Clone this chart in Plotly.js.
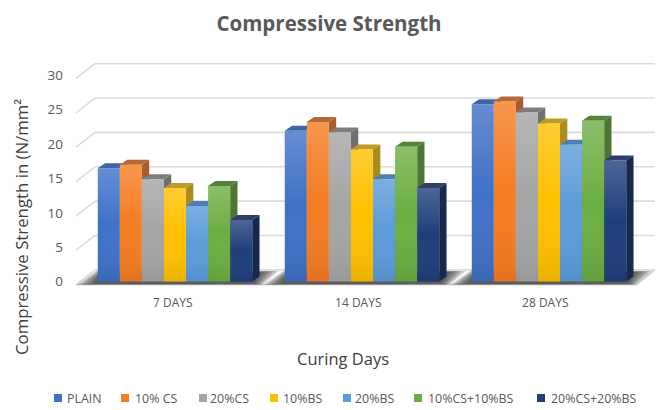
<!DOCTYPE html>
<html>
<head>
<meta charset="utf-8">
<script src="https://cdn.plot.ly/plotly-3.0.1.min.js"></script>
<style>html,body{margin:0;padding:0;background:#fff}</style>
</head>
<body>
<div id="chart" style="width:662px;height:410px"></div>
<script>
const categories = ["7 DAYS", "14 DAYS", "28 DAYS"];
const seriesNames = ["PLAIN", "10% CS", "20%CS", "10%BS", "20%BS", "10%CS+10%BS", "20%CS+20%BS"];
const plain = [16.5, 21.95, 25.8];
const cs10 = [17.0, 23.2, 26.2];
const cs20 = [14.9, 21.7, 24.6];
const bs10 = [13.6, 19.2, 23.0];
const bs20 = [11.0, 14.9, 19.9];
const cs10bs10 = [13.9, 19.6, 23.4];
const cs20bs20 = [8.95, 13.6, 17.6];
const seriesValues = [plain, cs10, cs20, bs10, bs20, cs10bs10, cs20bs20];
const frontColors = ["#3f71c7", "#f57c22", "#a5a5a5", "#ffc000", "#5b9bd9", "#6cae42", "#1f3f7c"];
const topColors = ["#3f63a5", "#b8663a", "#7d7d7d", "#c09a22", "#4f7fae", "#54803c", "#2f3f68"];
const sideColors = ["#2e4f8c", "#a85c30", "#6f6f6f", "#a98a20", "#3e6f9f", "#4c7634", "#16294f"];
const yTicks = [0, 5, 10, 15, 20, 25, 30];

const W = 662, H = 410;
const plotL = 68, plotR = 660, plotT = 60, plotB = 290;
const pxX = 187, pxY = 6.87;
const xRange = [(plotL - 362) / pxX + 1, (plotR - 362) / pxX + 1];
const yRange = [(281.5 - plotB) / pxY, (281.5 - plotT) / pxY];
const bargap = 0.174;
const barW = (1 - bargap) / seriesNames.length;
const depthX = 7.3 / pxX, depthY = 5 / pxY;
const gridLine = {color: "#dcdcdc", width: 1.6};

function poly(points) {
  return "M" + points.map(p => p[0] + "," + p[1]).join("L") + "Z";
}
const shapes = [];
// back wall and left wall gridlines
const wallFrontX = (76 - 362) / pxX + 1, wallBackX = (95 - 362) / pxX + 1, wallRightX = (655 - 362) / pxX + 1;
const floorRightX = (637 - 362) / pxX + 1;
yTicks.forEach(g => {
  const back = g + 1.7, front = g - 0.45;
  shapes.push({type: "line", xref: "x", yref: "y", layer: "below", x0: wallBackX, x1: wallRightX, y0: back, y1: back, line: gridLine});
  shapes.push({type: "line", xref: "x", yref: "y", layer: "below", x0: wallFrontX, x1: wallBackX, y0: front, y1: back, line: gridLine});
});
shapes.push({type: "line", xref: "x", yref: "y", layer: "below", x0: wallFrontX, x1: floorRightX, y0: -0.45, y1: -0.45, line: gridLine});
shapes.push({type: "line", xref: "x", yref: "y", layer: "below", x0: floorRightX, x1: wallRightX, y0: -0.45, y1: 1.7, line: gridLine});

// soft floor shadows, built from nested translucent polygons
const groupHalf = (1 - bargap) / 2;
categories.forEach((c, k) => {
  const L = k - groupHalf, R = k + groupHalf;
  const steps = 7;
  for (let s = 0; s < steps; s++) {
    const t = s / (steps - 1);
    const mix = (a, b) => a + (b - a) * t;
    const pts = [
      [L + mix(-22, -4) / pxX, mix(-0.5, -0.35)],
      [L + mix(0, 2) / pxX, mix(1.7, 0.9)],
      [R + mix(27, 8) / pxX, mix(1.55, 1.4)],
      [R + mix(10, 2) / pxX, mix(-0.5, -0.3)]
    ];
    shapes.push({type: "path", xref: "x", yref: "y", layer: "below", path: poly(pts),
      fillcolor: "rgba(50,50,50,0.2)", line: {width: 0}});
  }
});

// tops and sides of the bars, from the values
categories.forEach((c, k) => {
  seriesValues.forEach((vals, i) => {
    const v = vals[k];
    const x0 = k - groupHalf + i * barW, x1 = x0 + barW;
    shapes.push({type: "path", xref: "x", yref: "y", layer: "below",
      path: poly([[x1, 0], [x1 + depthX, depthY], [x1 + depthX, v + depthY], [x1, v]]),
      fillcolor: sideColors[i], line: {width: 0}});
    shapes.push({type: "path", xref: "x", yref: "y", layer: "below",
      path: poly([[x0, v], [x1, v], [x1 + depthX, v + depthY], [x0 + depthX, v + depthY]]),
      fillcolor: topColors[i], line: {width: 0}});
  });
});

const traces = seriesNames.map((name, i) => ({
  type: "bar", name: name, x: [0, 1, 2], y: seriesValues[i],
  marker: {color: frontColors[i], line: {width: 0}},
  hovertemplate: name + ": %{y}<extra></extra>"
}));

// light-to-dark sheen on each front face
categories.forEach((c, k) => {
  seriesValues.forEach((vals, i) => {
    const v = vals[k];
    const x0 = k - groupHalf + i * barW, x1 = x0 + barW;
    traces.push({
      type: "scatter", mode: "lines", x: [x0, x1, x1, x0, x0], y: [0, 0, v, v, 0],
      fill: "toself", line: {width: 0}, showlegend: false, hoverinfo: "skip",
      fillcolor: "rgba(0,0,0,0)",
      fillgradient: {type: "vertical", colorscale: [
        [0, "rgba(0,0,0,0.08)"], [0.5, "rgba(255,255,255,0)"], [1, "rgba(255,255,255,0.2)"]]}
    });
  });
});

// legend
const legendSwatchX = [54, 121, 199, 270, 343, 414, 537];
const legendTextX = [67, 135, 210, 283, 355, 428, 551];
const legendY = 398;
const paperX = px => (px - plotL) / (plotR - plotL);
const paperY = py => (plotB - py) / (plotB - plotT);
const textColor = "#595959";
const font = "Open Sans, sans-serif";
const annotations = [
  {text: "Compressive Strength in (N/mm²", xref: "paper", yref: "paper", x: paperX(21), y: paperY(227),
   xanchor: "center", yanchor: "middle",
   textangle: -90, showarrow: false, font: {family: font, size: 16.8, color: "#404040"}},
  {text: "Curing Days", xref: "paper", yref: "paper", x: paperX(343), y: paperY(358),
   xanchor: "center", yanchor: "middle",
   showarrow: false, font: {family: font, size: 16.5, color: "#404040"}}
];
seriesNames.forEach((name, i) => {
  shapes.push({type: "rect", xref: "paper", yref: "paper",
    x0: paperX(legendSwatchX[i]), x1: paperX(legendSwatchX[i] + 8),
    y0: paperY(legendY + 4), y1: paperY(legendY - 4), fillcolor: frontColors[i], line: {width: 0}});
  annotations.push({text: name, xref: "paper", yref: "paper", x: paperX(legendTextX[i]), y: paperY(legendY),
    xanchor: "left", yanchor: "middle", showarrow: false, xshift: -2, font: {family: font, size: 12.4, color: textColor}});
});

const layout = {
  width: W, height: H, paper_bgcolor: "#fff", plot_bgcolor: "rgba(0,0,0,0)",
  margin: {l: plotL, r: W - plotR, t: plotT, b: H - plotB, pad: 0},
  showlegend: false, barmode: "group", bargap: bargap, bargroupgap: 0,
  title: {text: "Compressive Strength", x: 0.497, xanchor: "center", y: 0.943, yanchor: "middle",
    font: {family: font, size: 20.5, color: textColor, weight: 700}},
  xaxis: {range: xRange, tickmode: "array", tickvals: [-0.012, 0.98, 1.98], ticktext: categories,
    showgrid: false, zeroline: false, showline: false, ticks: "", ticklabelstandoff: 4,
    tickfont: {family: font, size: 12, color: textColor}},
  yaxis: {range: yRange, tickmode: "array", tickvals: yTicks, ticktext: yTicks.map(String),
    showgrid: false, zeroline: false, showline: false, ticks: "", ticklabelstandoff: 4,
    tickfont: {family: font, size: 13.5, color: textColor}},
  shapes: shapes, annotations: annotations
};
Plotly.newPlot("chart", traces, layout, {displayModeBar: false, staticPlot: true});
</script>
</body>
</html>
